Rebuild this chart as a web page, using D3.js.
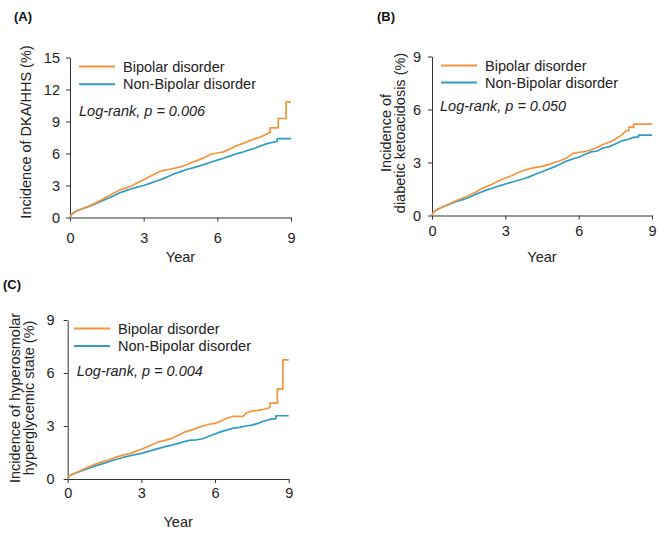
<!DOCTYPE html>
<html>
<head>
<meta charset="utf-8">
<script src="https://cdn.jsdelivr.net/npm/d3@7"></script>
<style>
  body { margin: 0; background: #fff; }
  svg { font-family: "Liberation Sans", Arial, sans-serif; }
</style>
</head>
<body>
<script>
// cumulative incidence (%) by year: [year, value]
// repeated years mark the visible vertical steps near the end
const dkaHhsBipolar = [[0,0],[0.05,0.25],[0.15,0.45],[0.3,0.65],[0.5,0.82],[0.75,1.05],[1,1.32],[1.25,1.62],[1.5,1.95],[1.75,2.25],[2,2.55],[2.25,2.75],[2.5,2.95],[2.75,3.25],[3,3.55],[3.25,3.85],[3.5,4.15],[3.75,4.4],[4,4.5],[4.25,4.62],[4.5,4.75],[4.75,4.95],[5,5.2],[5.25,5.4],[5.5,5.65],[5.75,5.95],[6,6.05],[6.25,6.15],[6.5,6.4],[6.75,6.7],[7,6.9],[7.25,7.15],[7.5,7.35],[7.75,7.55],[8,7.8],[8.15,8.0],[8.15,8.4],[8.48,8.4],[8.48,9.28],[8.8,9.28],[8.8,10.84],[9,10.84]];
const dkaHhsNonBipolar = [[0,0],[0.05,0.25],[0.15,0.45],[0.3,0.65],[0.5,0.82],[0.75,1.02],[1,1.25],[1.25,1.5],[1.5,1.75],[1.75,2.0],[2,2.3],[2.25,2.5],[2.5,2.7],[2.75,2.85],[3,3.0],[3.25,3.2],[3.5,3.4],[3.75,3.6],[4,3.85],[4.25,4.1],[4.5,4.3],[4.75,4.5],[5,4.65],[5.25,4.82],[5.5,5.0],[5.75,5.2],[6,5.38],[6.25,5.55],[6.5,5.75],[6.75,5.95],[7,6.1],[7.25,6.3],[7.5,6.47],[7.75,6.7],[8,6.9],[8.25,7.05],[8.44,7.15],[8.44,7.4],[9,7.4]];

const dkaBipolar = [[0,0],[0.05,0.18],[0.15,0.3],[0.3,0.4],[0.5,0.52],[0.75,0.68],[1,0.85],[1.25,0.98],[1.5,1.12],[1.75,1.3],[2,1.5],[2.25,1.65],[2.5,1.8],[2.75,1.98],[3,2.12],[3.25,2.25],[3.5,2.42],[3.75,2.55],[4,2.65],[4.25,2.72],[4.5,2.78],[4.75,2.88],[5,3.0],[5.25,3.1],[5.5,3.25],[5.75,3.5],[6,3.58],[6.25,3.62],[6.5,3.72],[6.75,3.85],[7,4.02],[7.25,4.15],[7.5,4.32],[7.75,4.55],[7.95,4.8],[8.05,4.8],[8.05,5.0],[8.25,5.0],[8.25,5.17],[9,5.17]];
const dkaNonBipolar = [[0,0],[0.05,0.18],[0.15,0.3],[0.3,0.4],[0.5,0.52],[0.75,0.66],[1,0.8],[1.25,0.9],[1.5,1.02],[1.75,1.18],[2,1.32],[2.25,1.45],[2.5,1.56],[2.75,1.68],[3,1.78],[3.25,1.88],[3.5,1.98],[3.75,2.08],[4,2.2],[4.25,2.35],[4.5,2.48],[4.75,2.62],[5,2.75],[5.25,2.92],[5.5,3.08],[5.75,3.2],[6,3.3],[6.25,3.45],[6.5,3.6],[6.75,3.65],[7,3.82],[7.25,3.9],[7.5,4.05],[7.75,4.22],[8,4.3],[8.25,4.42],[8.45,4.45],[8.45,4.55],[9,4.55]];

const hhsBipolar = [[0,0],[0.05,0.15],[0.15,0.25],[0.3,0.33],[0.5,0.45],[0.75,0.62],[1,0.78],[1.25,0.9],[1.5,1.02],[1.75,1.12],[2,1.25],[2.25,1.35],[2.5,1.42],[2.75,1.55],[3,1.68],[3.25,1.82],[3.5,1.98],[3.75,2.12],[4,2.2],[4.25,2.3],[4.5,2.48],[4.75,2.65],[5,2.75],[5.25,2.88],[5.5,3.0],[5.75,3.1],[6,3.15],[6.25,3.28],[6.5,3.45],[6.75,3.55],[7.15,3.55],[7.25,3.72],[7.5,3.85],[7.75,3.88],[8,3.95],[8.24,4.05],[8.24,4.3],[8.54,4.3],[8.54,5.1],[8.76,5.1],[8.76,6.74],[9,6.74]];
const hhsNonBipolar = [[0,0],[0.05,0.15],[0.15,0.25],[0.3,0.33],[0.5,0.43],[0.75,0.56],[1,0.68],[1.25,0.8],[1.5,0.9],[1.75,1.02],[2,1.12],[2.25,1.22],[2.5,1.3],[2.75,1.38],[3,1.45],[3.25,1.55],[3.5,1.65],[3.75,1.75],[4,1.85],[4.25,1.92],[4.5,2.02],[4.75,2.12],[5,2.2],[5.25,2.22],[5.5,2.28],[5.75,2.42],[6,2.55],[6.25,2.68],[6.5,2.78],[6.75,2.88],[7,2.92],[7.25,3.0],[7.5,3.05],[7.75,3.15],[8,3.28],[8.25,3.38],[8.48,3.42],[8.48,3.58],[9,3.58]];

const seriesNames = ['Bipolar disorder', 'Non-Bipolar disorder'];
const xTicks = [0, 3, 6, 9];
const yTicksA = [0, 3, 6, 9, 12, 15];
const yTicksBC = [0, 3, 6, 9];
const pValues = ['0.006', '0.050', '0.004'];

const colors = ['#f5943a', '#2f9bc4'];

const svg = d3.select('body').append('svg')
  .attr('width', 669)
  .attr('height', 539);

let panel = (cfg) => {
  let x = d3.scaleLinear().domain([0, 9]).range([cfg.x0, cfg.x1]);
  let y = d3.scaleLinear().domain([0, cfg.yMax]).range([cfg.y0, cfg.y1]);
  let g = svg.append('g');

  // x axis
  let xa = g.append('g')
    .attr('transform', `translate(0,${cfg.y0})`)
    .call(d3.axisBottom(x).tickValues(xTicks).tickSize(4).tickSizeOuter(0).tickPadding(cfg.xPad));
  // y axis
  let ya = g.append('g')
    .attr('transform', `translate(${cfg.x0},0)`)
    .call(d3.axisLeft(y).tickValues(cfg.yTicks).tickSize(4).tickSizeOuter(0).tickPadding(cfg.yPad));

  [xa, ya].forEach(a => {
    a.selectAll('path, line').attr('stroke', '#333').attr('stroke-width', 1);
    a.selectAll('text').attr('fill', '#222').style('font-size', '14.5px').attr('font-family', null);
  });

  let line = d3.line()
    .x(d => x(d[0]))
    .y(d => y(d[1]));

  [cfg.nonBipolar, cfg.bipolar].forEach((s, i) => {
    g.append('path')
      .datum(s)
      .attr('d', line)
      .attr('fill', 'none')
      .attr('stroke', colors[1 - i])
      .attr('stroke-width', 1.7)
      .attr('stroke-linejoin', 'round');
  });

  // legend
  seriesNames.forEach((n, i) => {
    let ly = cfg.legY + i * cfg.legGap;
    g.append('line')
      .attr('x1', cfg.legX).attr('x2', cfg.legX + 36)
      .attr('y1', ly).attr('y2', ly)
      .attr('stroke', colors[i]).attr('stroke-width', 2);
    g.append('text')
      .attr('x', cfg.legX + 44).attr('y', ly + 5)
      .attr('fill', '#222')
      .style('font-size', '14.5px')
      .text(n);
  });

  g.append('text')
    .attr('x', cfg.logX).attr('y', cfg.logY)
    .attr('fill', '#222')
    .style('font-size', '14.5px')
    .style('font-style', 'italic')
    .text(`Log-rank, p = ${cfg.p}`);

  // y title, one or two lines
  cfg.yTitle.forEach((t, i) => {
    g.append('text')
      .attr('transform', `translate(${cfg.titleX[i]},${cfg.titleY}) rotate(-90)`)
      .attr('text-anchor', 'middle')
      .attr('fill', '#222')
      .style('font-size', '14.5px')
      .text(t);
  });

  g.append('text')
    .attr('x', (cfg.x0 + cfg.x1) / 2).attr('y', cfg.y0 + cfg.yearOff)
    .attr('text-anchor', 'middle')
    .attr('fill', '#222')
    .style('font-size', '14.5px')
    .text('Year');

  g.append('text')
    .attr('x', cfg.labX).attr('y', cfg.labY)
    .attr('fill', '#111')
    .style('font-size', '13px')
    .style('font-weight', 'bold')
    .text(cfg.label);
};

panel({
  label: '(A)', labX: 14, labY: 21,
  x0: 70, x1: 291, y0: 217.5, y1: 57.5, yMax: 15, yTicks: yTicksA,
  xPad: 11, yPad: 6, yearOff: 44,
  bipolar: dkaHhsBipolar, nonBipolar: dkaHhsNonBipolar,
  legX: 79, legY: 66.5, legGap: 17.7,
  logX: 79, logY: 116, p: pValues[0],
  yTitle: ['Incidence of DKA/HHS (%)'], titleX: [31], titleY: 132
});

panel({
  label: '(B)', labX: 377, labY: 21,
  x0: 432, x1: 652, y0: 215.5, y1: 56.5, yMax: 9, yTicks: yTicksBC,
  xPad: 6, yPad: 7, yearOff: 46,
  bipolar: dkaBipolar, nonBipolar: dkaNonBipolar,
  legX: 441, legY: 65.5, legGap: 17,
  logX: 440, logY: 111, p: pValues[1],
  yTitle: ['Incidence of', 'diabetic ketoacidosis (%)'], titleX: [391, 405], titleY: 133
});

panel({
  label: '(C)', labX: 3, labY: 289,
  x0: 67.7, x1: 288.7, y0: 479, y1: 320, yMax: 9, yTicks: yTicksBC,
  xPad: 5, yPad: 9, yearOff: 48,
  bipolar: hhsBipolar, nonBipolar: hhsNonBipolar,
  legX: 74, legY: 328.5, legGap: 17.5,
  logX: 76.7, logY: 376, p: pValues[2],
  yTitle: ['Incidence of hyperosmolar', 'hyperglycemic state (%)'], titleX: [20, 34], titleY: 398
});
</script>
</body>
</html>
